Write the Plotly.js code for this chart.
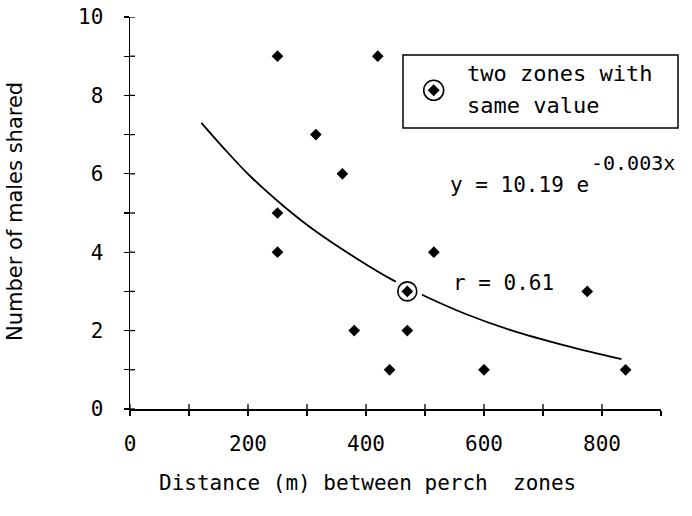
<!DOCTYPE html>
<html>
<head>
<meta charset="utf-8">
<script src="https://cdn.plot.ly/plotly-3.0.1.min.js"></script>
<style>html,body{margin:0;padding:0;background:#fff}#chart{width:692px;height:516px}</style>
</head>
<body>
<div id="chart"></div>
<script>
// Observed points: distance between perch zones (m) vs number of males shared
const distance = [250, 420, 315, 360, 250, 250, 515, 775, 380, 470, 440, 600, 840];
const males    = [9,   9,   7,   6,   5,   4,   4,   3,   2,   2,   1,   1,   1];
// Two zones with the same value (circled point)
const sharedDistance = [470];
const sharedMales    = [3];
// Fitted exponential curve
const fitDistance = [121, 158, 203, 260, 316, 384, 444, 494, 571, 644, 740, 833];
const fitMales    = [7.30, 6.67, 5.95, 5.18, 4.52, 3.84, 3.30, 2.92, 2.41, 2.02, 1.61, 1.27];
// Tick labels and tick positions
const xTicks = [0, 200, 400, 600, 800];
const yTicks = [0, 2, 4, 6, 8, 10];
const xAllTicks = [0, 100, 200, 300, 400, 500, 600, 700, 800, 900];
const yAllTicks = [0, 1, 2, 3, 4, 5, 6, 7, 8, 9, 10];
const xRange = [0, 900];
const yRange = [0, 10];

const tickFont = {family: 'DejaVu Sans Mono', size: 21, color: '#000'};
const textFont = {family: 'DejaVu Sans Mono', size: 21, color: '#000'};

const traces = [
  {x: fitDistance, y: fitMales, mode: 'lines', type: 'scatter',
   line: {color: '#000', width: 1.8, shape: 'spline'}, hoverinfo: 'skip', showlegend: false},
  {x: sharedDistance, y: sharedMales, mode: 'markers', type: 'scatter',
   marker: {symbol: 'circle', size: 30, color: '#fff', line: {width: 0}}, showlegend: false, hoverinfo: 'skip'},
  {x: sharedDistance, y: sharedMales, mode: 'markers', type: 'scatter',
   marker: {symbol: 'circle', size: 19, color: '#fff', line: {color: '#000', width: 1.6}}, showlegend: false},
  {x: sharedDistance, y: sharedMales, mode: 'markers', type: 'scatter',
   marker: {symbol: 'diamond', size: 9, color: '#000', line: {width: 0}}, showlegend: false},
  {x: distance, y: males, mode: 'markers', type: 'scatter',
   marker: {symbol: 'diamond', size: 9, color: '#000', line: {width: 0}}, showlegend: false}
];

const px = (v) => (v - 130) / 531;
const py = (v) => (409 - v) / 392;
const cx = px(433.7), cy = py(90.3), dx = 6 / 531, dy = 6 / 392;

const tickStyle = {ticklen: 5, tickwidth: 1.3, tickcolor: '#000'};

// inner halves of the crossing tick marks
const innerTicks = [];
xAllTicks.slice(0, -1).forEach(v => innerTicks.push({
  type: 'line', xref: 'x', yref: 'paper', ysizemode: 'pixel', yanchor: 0,
  x0: v, x1: v, y0: 0, y1: 5, line: {color: '#000', width: 1.3}}));
yAllTicks.forEach(v => innerTicks.push({
  type: 'line', yref: 'y', xref: 'paper', xsizemode: 'pixel', xanchor: 0,
  y0: v, y1: v, x0: 0, x1: 5, line: {color: '#000', width: 1.3}}));

const layout = {
  width: 692, height: 516,
  margin: {l: 130, r: 31, t: 17, b: 107},
  paper_bgcolor: '#fff', plot_bgcolor: '#fff',
  showlegend: false,
  xaxis: Object.assign({
    showgrid: false, zeroline: false, showline: true, linecolor: '#000', linewidth: 1.5,
    ticks: 'outside', tickfont: tickFont,
    range: xRange, tickmode: 'array', tickvals: xTicks, ticktext: xTicks.map(String),
    minor: Object.assign({dtick: 100, tick0: 0, ticks: 'outside', showgrid: false}, tickStyle),
    ticklabelstandoff: 10
  }, tickStyle),
  yaxis: Object.assign({
    showgrid: false, zeroline: false, showline: true, linecolor: '#000', linewidth: 1.5,
    ticks: 'outside', tickfont: tickFont,
    range: yRange, tickmode: 'array', tickvals: yTicks, ticktext: yTicks.map(String),
    minor: Object.assign({dtick: 1, tick0: 0, ticks: 'outside', showgrid: false}, tickStyle),
    ticklabelstandoff: 16
  }, tickStyle),
  shapes: innerTicks.concat([
    {type: 'rect', xref: 'paper', yref: 'paper', x0: px(403), x1: px(678), y0: py(128), y1: py(55),
     line: {color: '#000', width: 1.5}, fillcolor: 'rgba(0,0,0,0)'},
    {type: 'circle', xref: 'paper', yref: 'paper', x0: px(423.7), x1: px(443.7), y0: py(100.3), y1: py(80.3),
     line: {color: '#000', width: 1.6}, fillcolor: '#fff'},
    {type: 'path', xref: 'paper', yref: 'paper',
     path: `M ${cx - dx} ${cy} L ${cx} ${cy + dy} L ${cx + dx} ${cy} L ${cx} ${cy - dy} Z`,
     line: {color: '#000', width: 0}, fillcolor: '#000'}
  ]),
  annotations: [
    {xref: 'paper', yref: 'paper', x: px(367), y: py(483), xanchor: 'center', yanchor: 'middle',
     text: 'Distance (m) between perch  zones', showarrow: false,
     font: {family: 'DejaVu Sans Mono', size: 21, color: '#000'}},
    {xref: 'paper', yref: 'paper', x: px(15), y: py(212), xanchor: 'center', yanchor: 'middle',
     text: 'Number of males shared', textangle: -90, showarrow: false,
     font: {family: 'DejaVu Sans', size: 21, color: '#000'}},
    {xref: 'paper', yref: 'paper', x: px(465), y: py(73), xanchor: 'left', yanchor: 'middle',
     text: 'two zones with', showarrow: false, font: {family: 'DejaVu Sans Mono', size: 22, color: '#000'}},
    {xref: 'paper', yref: 'paper', x: px(465), y: py(105), xanchor: 'left', yanchor: 'middle',
     text: 'same value', showarrow: false, font: {family: 'DejaVu Sans Mono', size: 22, color: '#000'}},
    {xref: 'paper', yref: 'paper', x: px(448), y: py(185), xanchor: 'left', yanchor: 'middle',
     text: 'y = 10.19 e', showarrow: false, font: textFont},
    {xref: 'paper', yref: 'paper', x: px(589), y: py(163), xanchor: 'left', yanchor: 'middle',
     text: '-0.003x', showarrow: false, font: {family: 'DejaVu Sans Mono', size: 20, color: '#000'}},
    {xref: 'paper', yref: 'paper', x: px(451), y: py(283), xanchor: 'left', yanchor: 'middle',
     text: 'r = 0.61', showarrow: false, font: textFont}
  ]
};

Plotly.newPlot('chart', traces, layout, {displayModeBar: false, staticPlot: true});
</script>
</body>
</html>
